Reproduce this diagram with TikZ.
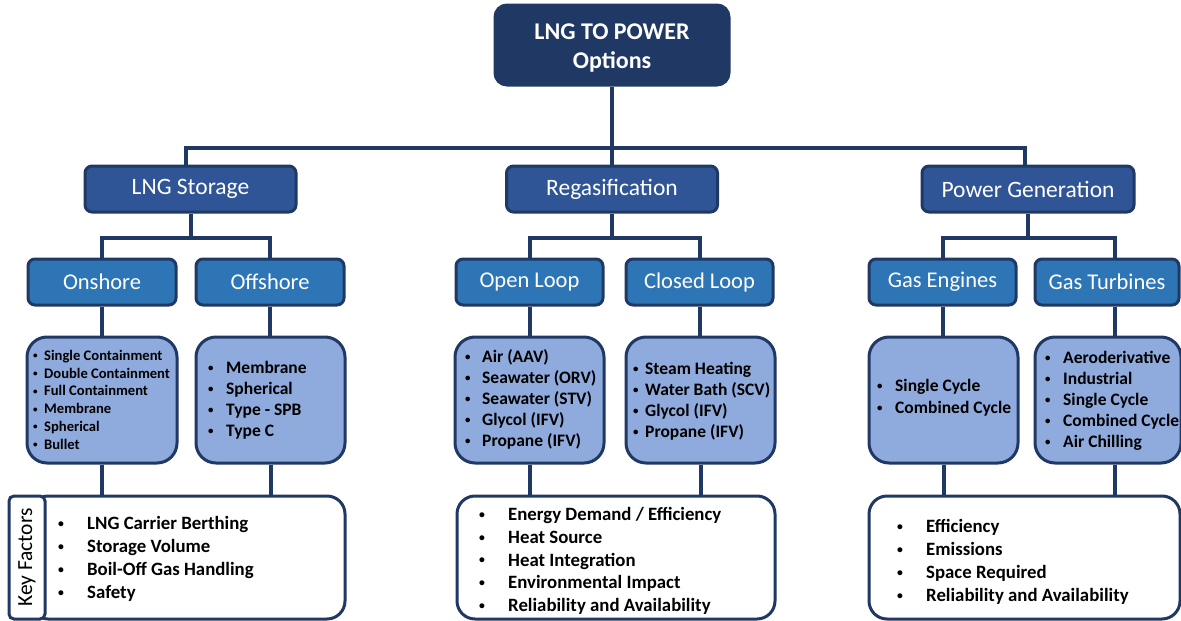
\documentclass[tikz,border=0pt]{standalone}
\usepackage{fontspec}
\setmainfont{Carlito}
\usetikzlibrary{backgrounds,calc}
\definecolor{navy}{RGB}{31,56,100}
\definecolor{lvltwo}{RGB}{47,85,151}
\definecolor{lvlthree}{RGB}{46,117,182}
\definecolor{lvlfour}{RGB}{143,170,220}
\tikzset{
  box/.style={draw=navy, line width=3pt, inner sep=0pt},
  topbox/.style={box, fill=navy, rounded corners=12pt, text=white, align=center,
    font=\fontsize{24}{30}\selectfont\bfseries},
  secbox/.style={box, fill=lvltwo, rounded corners=7pt, text=white,
    font=\fontsize{23.5}{26}\selectfont, minimum height=46pt},
  subbox/.style={box, fill=lvlthree, rounded corners=7pt, text=white,
    font=\fontsize{22.5}{25}\selectfont, minimum height=46pt},
  listbox/.style={box, fill=lvlfour, rounded corners=20pt, minimum height=126pt},
  keybox/.style={box, fill=white, rounded corners=18pt, minimum height=123pt},
  tabbox/.style={box, fill=white, rounded corners=5pt, minimum height=123pt, minimum width=36pt},
  conn/.style={draw=navy, line width=4pt},
  itemtext/.style={anchor=base west, inner sep=0pt, text=black},
}
\newcommand\smallbul{\raisebox{0.12em}{\scalebox{0.62}{\textbullet}}}
\newcommand\mylist[7]{%
  \foreach \t [count=\i] in {#7} {
    \node[itemtext, font=\fontsize{#6}{#6}\selectfont\bfseries] (#1\i)
      at ({#2},{#4+#5*(\i-1)+0.3*#6}) {\makebox[#3pt][l]{\smallbul}\t};
  }}
\begin{document}
\begin{tikzpicture}[x=1pt,y=-1pt]
\useasboundingbox (0,0) rectangle (1181,621);
% top
\node[topbox, minimum width=234pt, minimum height=80pt] (top) at (612,45)
  {\raisebox{-3pt}[\height][\depth]{\begin{tabular}{@{}c@{}}LNG TO POWER\\Options\end{tabular}}};
% level 2
\node[secbox, minimum width=211pt] (storage) at (190.5,189) {LNG Storage};
\node[secbox, minimum width=211pt] (regas) at (612,189) {Regasification};
\node[secbox, minimum width=212pt] (power) at (1028,189) {Power Generation};
% level 3
\node[subbox, minimum width=148pt] (onshore) at (102,282) {Onshore};
\node[subbox, minimum width=148pt] (offshore) at (270,282) {Offshore};
\node[subbox, minimum width=147pt] (openloop) at (529.5,282) {Open Loop};
\node[subbox, minimum width=147pt] (closedloop) at (699.5,282) {Closed Loop};
\node[subbox, minimum width=147pt] (engines) at (942.5,282) {Gas Engines};
\node[subbox, minimum width=144pt] (turbines) at (1107,282) {Gas Turbines};
% level 4
\node[listbox, minimum width=150pt] (onlist) at (102,400) {};
\node[listbox, minimum width=149pt] (offlist) at (270.5,400) {};
\node[listbox, minimum width=149pt] (openlist) at (529.5,400) {};
\node[listbox, minimum width=149pt] (closedlist) at (700.5,400) {};
\node[listbox, minimum width=149pt] (englist) at (943.5,400) {};
\node[listbox, minimum width=146pt] (turblist) at (1108,400) {};
% key factor boxes
\node[keybox, minimum width=315pt] (keyA) at (187.5,557.5) {};
\node[tabbox] (keytab) at (27,557.5) {};
\node[rotate=90, inner sep=0pt, font=\fontsize{21.5}{22}\selectfont] (kf) at (keytab.center) {Key Factors};
\node[keybox, minimum width=318pt] (keyB) at (616,557.5) {};
\node[keybox, minimum width=311pt] (keyC) at (1024.5,557.5) {};
% texts
\mylist{on}{33}{11}{356}{17.8}{14.6}{Single Containment,Double Containment,Full Containment,Membrane,Spherical,Bullet}
\mylist{off}{208}{18}{368}{21}{17.5}{Membrane,Spherical,Type - SPB,Type C}
\mylist{op}{465}{17}{357}{21}{17.5}{Air (AAV),Seawater (ORV),Seawater (STV),Glycol (IFV),Propane (IFV)}
\mylist{cl}{633}{12}{369}{21}{17.5}{Steam Heating,Water Bath (SCV),Glycol (IFV),Propane (IFV)}
\mylist{ge}{877}{18}{386}{22}{17.5}{Single Cycle,Combined Cycle}
\mylist{gt}{1045}{18}{358}{21}{17.5}{Aeroderivative,Industrial,Single Cycle,Combined Cycle,Air Chilling}
\mylist{ka}{58}{29}{524}{23}{18.8}{LNG Carrier Berthing,Storage Volume,Boil-Off Gas Handling,Safety}
\mylist{kb}{479}{29}{515}{22.75}{18.8}{Energy Demand / Efficiency,Heat Source,Heat Integration,Environmental Impact,Reliability and Availability}
\mylist{kc}{897}{29}{527}{23}{18.8}{Efficiency,Emissions,Space Required,Reliability and Availability}
% connectors
\coordinate (bus) at (612,148);
\coordinate (sL) at (186,148);
\coordinate (pR) at (1025,148);
\coordinate (tx) at (1115,0);
\begin{scope}[on background layer]
\draw[conn] (top.south) -- (bus);
\draw[conn] (storage.north -| sL) |- (bus);
\draw[conn] (power.north -| pR) |- (bus);
\draw[conn] (regas.north) -- (bus);
\draw[conn] (storage.south) -- ++(0,24) coordinate (sb);
\draw[conn] (onshore.north) |- (sb) -| (offshore.north);
\draw[conn] (regas.south) -- ++(0,24) coordinate (rb);
\draw[conn] (openloop.north) |- (rb) -| (closedloop.north);
\draw[conn] (power.south) -- ++(0,24) coordinate (pb);
\draw[conn] (engines.north) |- (pb) -| (turbines.north -| tx);
\foreach \a/\b/\c in {onshore/onlist/keyA, offshore/offlist/keyA, openloop/openlist/keyB, closedloop/closedlist/keyB, engines/englist/keyC}{
  \draw[conn] (\a.south) -- (\a.south |- \b.north);
  \draw[conn] (\b.south) -- (\b.south |- \c.north);
}
\draw[conn] (turbines.south -| tx) -- (turblist.north -| tx);
\draw[conn] (turblist.south -| tx) -- (keyC.north -| tx);
\end{scope}
\end{tikzpicture}
\end{document}
